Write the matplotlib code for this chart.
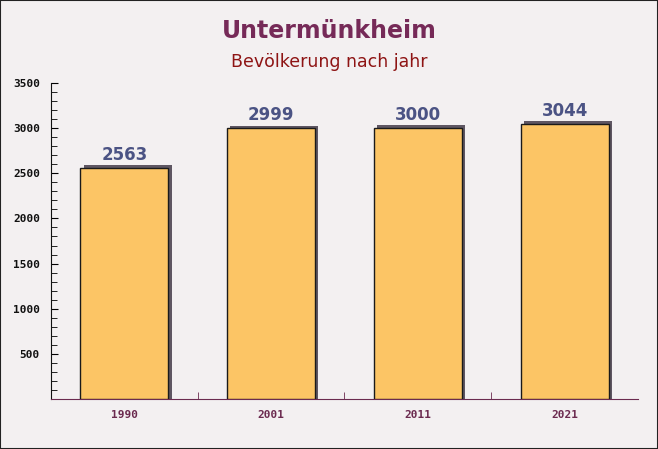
import matplotlib.pyplot as plt
from matplotlib.ticker import MultipleLocator, FixedLocator

years = ["1990", "2001", "2011", "2021"]
population = [2563, 2999, 3000, 3044]

fig = plt.figure(figsize=(6.58, 4.49), dpi=100)
fig.patch.set_facecolor("#f3f0f1")
ax = fig.add_axes([0.0775, 0.1114, 0.892, 0.7037])
ax.set_facecolor("none")

x = list(range(len(years)))
# shadow behind each bar
ax.bar([i + 0.022 for i in x], [v + 30 for v in population], width=0.6,
       color="#5e5662", zorder=2)
ax.bar(x, population, width=0.6, color="#fcc565", edgecolor="#1a1a1a",
       linewidth=1, zorder=3)

for i, v in zip(x, population):
    ax.text(i, v + 45, str(v), ha="center", va="bottom", fontsize=12,
            fontweight="bold", color="#4b5384", zorder=4)

ax.set_xlim(-0.5, len(years) - 0.5)
ax.set_ylim(0, 3500)
ax.set_xticks(x)
ax.set_xticklabels(years)
ax.xaxis.set_minor_locator(FixedLocator([0.5, 1.5, 2.5]))
ax.tick_params(axis="x", which="major", length=0, pad=8)
ax.tick_params(axis="x", which="minor", direction="in", length=5,
               color="#6b2a4f")
for lab in ax.get_xticklabels():
    lab.set_fontfamily("DejaVu Sans Mono")
    lab.set_fontweight("bold")
    lab.set_fontsize(8)
    lab.set_color("#6b2a4f")

ax.yaxis.set_major_locator(MultipleLocator(500))
ax.yaxis.set_minor_locator(MultipleLocator(100))
ax.set_yticks([500, 1000, 1500, 2000, 2500, 3000, 3500])
ax.tick_params(axis="y", which="major", direction="in", length=5, pad=8)
ax.tick_params(axis="y", which="minor", direction="in", length=4)
for lab in ax.get_yticklabels():
    lab.set_fontfamily("DejaVu Sans Mono")
    lab.set_fontweight("bold")
    lab.set_fontsize(8)
    lab.set_color("#111111")

for s in ["top", "right"]:
    ax.spines[s].set_visible(False)
ax.spines["left"].set_color("#111111")
ax.spines["bottom"].set_color("#6b2a4f")

fig.text(0.5, 0.93, "Untermünkheim", ha="center", va="center", fontsize=17,
         fontweight="bold", color="#762a58")
fig.text(0.5, 0.862, "Bevölkerung nach jahr", ha="center", va="center",
         fontsize=12.5, color="#8e1414")

border = plt.Rectangle((0, 0), 1, 1, transform=fig.transFigure, fill=False,
                       edgecolor="#222222", linewidth=1.5)
fig.patches.append(border)

fig.savefig("out.png", dpi=100, facecolor=fig.get_facecolor())
